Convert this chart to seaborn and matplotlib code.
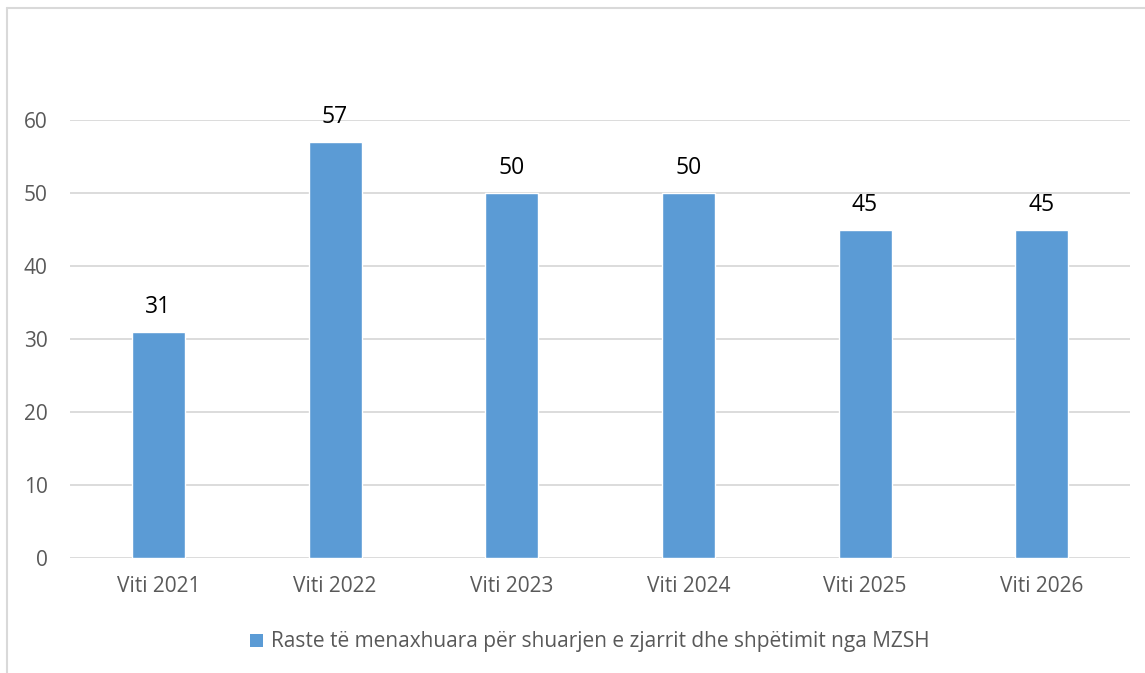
import matplotlib
matplotlib.use("Agg")
import matplotlib.pyplot as plt
import seaborn as sns
import pandas as pd
from matplotlib.lines import Line2D
from matplotlib.patches import Patch

# ==== Data ====
years = ["Viti 2021", "Viti 2022", "Viti 2023", "Viti 2024", "Viti 2025", "Viti 2026"]
cases = [31, 57, 50, 50, 45, 45]
series_name = "Raste të menaxhuara për shuarjen e zjarrit dhe shpëtimit nga MZSH"

df = pd.DataFrame({"year": years, "cases": cases})

# ==== Plot ====
sns.set_style("white")
plt.rcParams["font.family"] = ["Open Sans", "DejaVu Sans"]

fig = plt.figure(figsize=(11.45, 6.73), dpi=100)
ax = fig.add_axes([70 / 1145, 1 - 558 / 673, 1060 / 1145, 438 / 673])

bar_color = "#5B9BD5"
sns.barplot(data=df, x="year", y="cases", color=bar_color, width=0.3,
            saturation=1, ax=ax, zorder=3)

ax.set_ylim(0, 60)
ax.set_xlim(-0.5, len(years) - 0.5)
ax.set_yticks(range(0, 61, 10))
ax.yaxis.grid(True, color="#d9d9d9", linewidth=1.3, zorder=0)
ax.set_axisbelow(True)
for s in ax.spines.values():
    s.set_visible(False)
ax.tick_params(axis="both", length=0, labelsize=15, colors="#595959")
ax.tick_params(axis="y", pad=16)
ax.tick_params(axis="x", pad=13)
ax.set_xlabel("")
ax.set_ylabel("")

# data labels
for i, v in enumerate(cases):
    ax.annotate(str(v), (i, v), xytext=(0, 9), textcoords="offset points",
                ha="center", va="bottom", fontsize=16.5, color="black",
                annotation_clip=False)

# legend
handle = Patch(facecolor=bar_color, edgecolor="none")
fig.legend([handle], [series_name], loc="center", bbox_to_anchor=(590 / 1145, 1 - 642 / 673),
           frameon=False, fontsize=15, handlelength=0.6, handleheight=0.6,
           handletextpad=0.4, labelcolor="#595959")

# chart frame (only left and top visible)
frame_color = "#d9d9d9"
fig.add_artist(Line2D([7 / 1145, 7 / 1145], [0, 1 - 8 / 673], color=frame_color, linewidth=1.5))
fig.add_artist(Line2D([7 / 1145, 1], [1 - 8 / 673, 1 - 8 / 673], color=frame_color, linewidth=1.5))

fig.savefig("out.png", dpi=100)
